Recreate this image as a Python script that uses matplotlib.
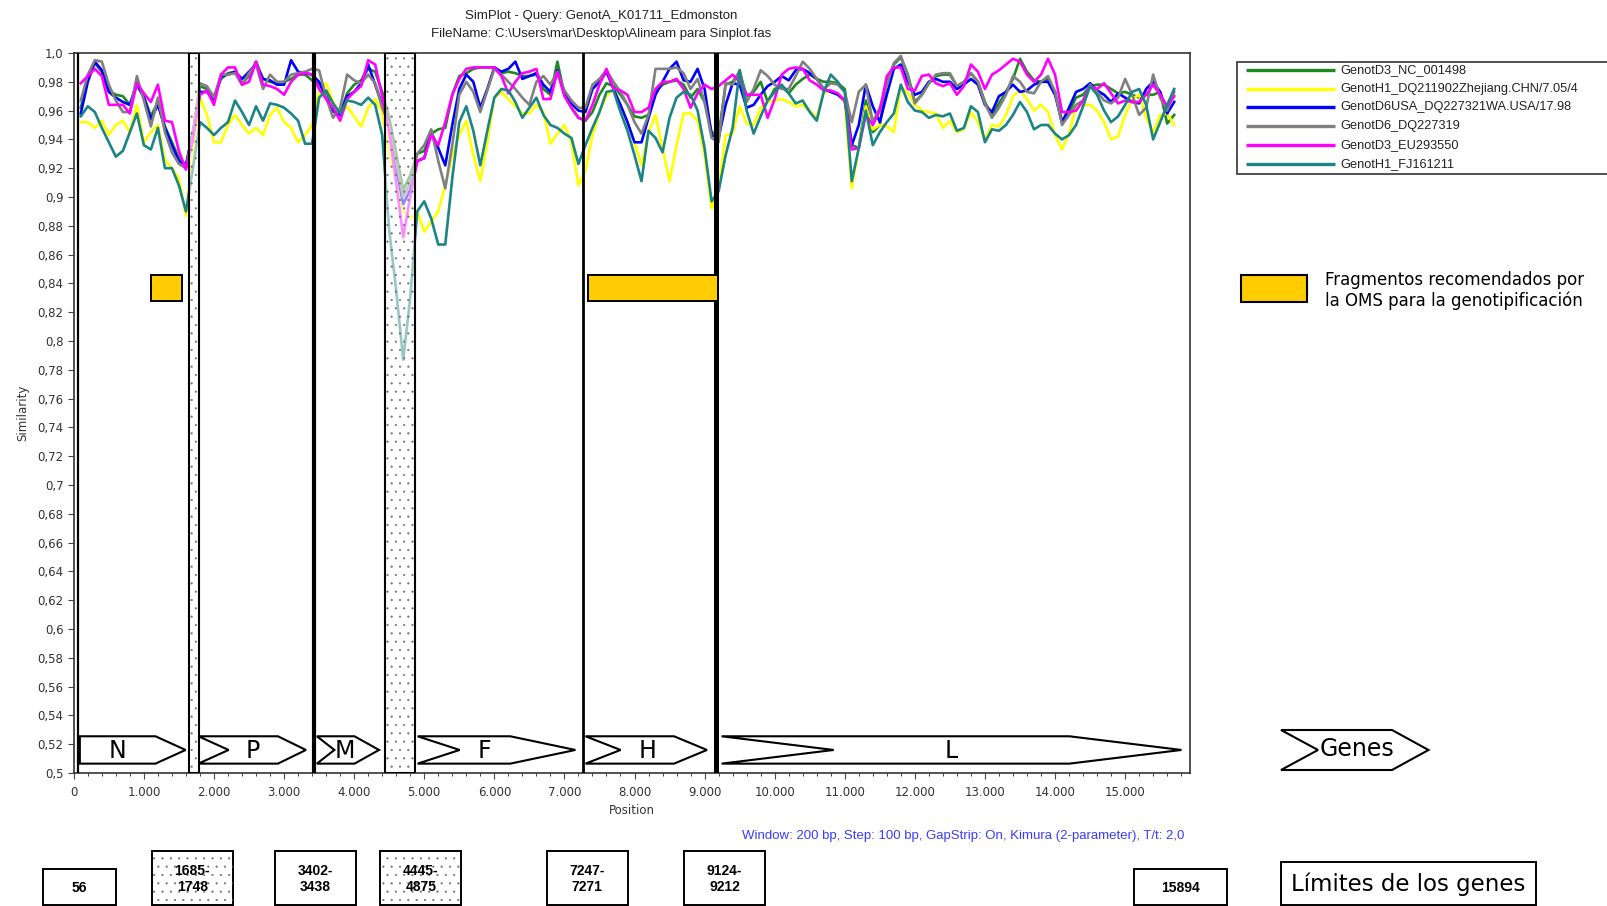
import matplotlib
import numpy as np

matplotlib.use("Agg")
import matplotlib.pyplot as plt
from matplotlib.patches import Polygon, Rectangle
from matplotlib.ticker import FuncFormatter, MultipleLocator

plt.rcParams["hatch.linewidth"] = 0.3

# SimPlot output: window 200 bp, step 100 bp
STEP = 100
positions = np.arange(100, 15800, STEP)

SERIES_NAMES = [
    "GenotD3_NC_001498",
    "GenotH1_DQ211902Zhejiang.CHN/7.05/4",
    "GenotD6USA_DQ227321WA.USA/17.98",
    "GenotD6_DQ227319",
    "GenotD3_EU293550",
    "GenotH1_FJ161211",
]
SERIES_COLORS = ["#1e8a1e", "#ffff00", "#0000ff", "#808080", "#ff00ff", "#1b8585"]

genotD3_nc001498 = [
    0.962, 0.982, 0.993, 0.987, 0.974, 0.971, 0.970, 0.964, 0.980, 0.970,
    0.956, 0.966, 0.949, 0.938, 0.927, 0.922, 0.945, 0.977, 0.975, 0.970,
    0.982, 0.986, 0.987, 0.979, 0.984, 0.994, 0.982, 0.980, 0.979, 0.980,
    0.982, 0.985, 0.985, 0.981, 0.979, 0.971, 0.959, 0.958, 0.972, 0.978,
    0.981, 0.989, 0.987, 0.973, 0.955, 0.930, 0.905, 0.915, 0.930, 0.932,
    0.944, 0.947, 0.948, 0.971, 0.984, 0.986, 0.989, 0.990, 0.990, 0.990,
    0.986, 0.987, 0.986, 0.984, 0.984, 0.985, 0.975, 0.971, 0.994, 0.971,
    0.962, 0.955, 0.953, 0.959, 0.971, 0.979, 0.977, 0.971, 0.964, 0.956,
    0.955, 0.957, 0.973, 0.978, 0.980, 0.981, 0.978, 0.969, 0.975, 0.966,
    0.945, 0.943, 0.978, 0.980, 0.987, 0.970, 0.973, 0.980, 0.966, 0.975,
    0.977, 0.972, 0.978, 0.982, 0.985, 0.982, 0.980, 0.980, 0.979, 0.975,
    0.936, 0.934, 0.967, 0.945, 0.950, 0.980, 0.992, 0.997, 0.985, 0.966,
    0.971, 0.979, 0.984, 0.985, 0.985, 0.977, 0.980, 0.986, 0.980, 0.966,
    0.956, 0.965, 0.973, 0.982, 0.996, 0.987, 0.981, 0.980, 0.982, 0.973,
    0.952, 0.959, 0.969, 0.971, 0.977, 0.978, 0.978, 0.975, 0.972, 0.973,
    0.971, 0.969, 0.971, 0.971, 0.973, 0.951, 0.957,
]
genotH1_dq211902 = [
    0.952, 0.952, 0.948, 0.953, 0.943, 0.950, 0.953, 0.945, 0.964, 0.938,
    0.945, 0.950, 0.926, 0.920, 0.913, 0.887, 0.930, 0.969, 0.957, 0.938,
    0.938, 0.950, 0.957, 0.950, 0.944, 0.948, 0.943, 0.957, 0.962, 0.952,
    0.948, 0.938, 0.943, 0.950, 0.973, 0.979, 0.966, 0.957, 0.963, 0.956,
    0.949, 0.962, 0.968, 0.959, 0.930, 0.910, 0.890, 0.885, 0.890, 0.876,
    0.883, 0.890, 0.908, 0.929, 0.943, 0.953, 0.929, 0.911, 0.938, 0.969,
    0.973, 0.968, 0.963, 0.958, 0.958, 0.964, 0.959, 0.937, 0.944, 0.950,
    0.938, 0.908, 0.918, 0.943, 0.959, 0.970, 0.975, 0.964, 0.952, 0.938,
    0.922, 0.945, 0.957, 0.934, 0.911, 0.936, 0.958, 0.958, 0.953, 0.929,
    0.892, 0.906, 0.943, 0.944, 0.963, 0.951, 0.950, 0.962, 0.966, 0.967,
    0.968, 0.966, 0.963, 0.964, 0.960, 0.955, 0.973, 0.973, 0.971, 0.966,
    0.906, 0.934, 0.963, 0.947, 0.950, 0.949, 0.945, 0.977, 0.972, 0.964,
    0.960, 0.959, 0.958, 0.948, 0.953, 0.945, 0.947, 0.959, 0.952, 0.940,
    0.950, 0.949, 0.957, 0.970, 0.974, 0.968, 0.960, 0.964, 0.959, 0.943,
    0.933, 0.944, 0.963, 0.964, 0.964, 0.960, 0.952, 0.940, 0.942, 0.957,
    0.968, 0.971, 0.955, 0.945, 0.957, 0.958, 0.950,
]
genotD6usa_dq227321 = [
    0.958, 0.980, 0.994, 0.988, 0.973, 0.969, 0.966, 0.964, 0.978, 0.969,
    0.954, 0.964, 0.948, 0.936, 0.925, 0.922, 0.945, 0.973, 0.973, 0.967,
    0.984, 0.985, 0.987, 0.982, 0.987, 0.992, 0.982, 0.981, 0.978, 0.978,
    0.995, 0.987, 0.986, 0.985, 0.980, 0.969, 0.960, 0.957, 0.970, 0.973,
    0.979, 0.992, 0.978, 0.964, 0.950, 0.920, 0.895, 0.905, 0.925, 0.927,
    0.945, 0.934, 0.922, 0.950, 0.975, 0.985, 0.980, 0.962, 0.975, 0.990,
    0.987, 0.989, 0.994, 0.982, 0.984, 0.986, 0.978, 0.973, 0.988, 0.972,
    0.965, 0.960, 0.959, 0.975, 0.980, 0.987, 0.975, 0.964, 0.952, 0.938,
    0.938, 0.955, 0.971, 0.980, 0.989, 0.994, 0.981, 0.980, 0.989, 0.975,
    0.943, 0.941, 0.964, 0.979, 0.978, 0.962, 0.964, 0.971, 0.977, 0.980,
    0.984, 0.981, 0.988, 0.989, 0.986, 0.982, 0.975, 0.973, 0.971, 0.967,
    0.936, 0.950, 0.978, 0.963, 0.952, 0.971, 0.989, 0.992, 0.980, 0.971,
    0.973, 0.980, 0.982, 0.980, 0.980, 0.975, 0.978, 0.982, 0.978, 0.964,
    0.959, 0.970, 0.973, 0.978, 0.973, 0.974, 0.978, 0.980, 0.980, 0.971,
    0.952, 0.962, 0.973, 0.975, 0.979, 0.974, 0.971, 0.966, 0.972, 0.969,
    0.966, 0.965, 0.975, 0.980, 0.973, 0.958, 0.966,
]
genotD6_dq227319 = [
    0.967, 0.985, 0.995, 0.994, 0.978, 0.967, 0.959, 0.959, 0.984, 0.967,
    0.949, 0.969, 0.945, 0.931, 0.923, 0.920, 0.945, 0.979, 0.977, 0.969,
    0.985, 0.985, 0.986, 0.978, 0.986, 0.992, 0.975, 0.985, 0.980, 0.980,
    0.985, 0.986, 0.987, 0.989, 0.988, 0.969, 0.955, 0.962, 0.985, 0.981,
    0.979, 0.985, 0.979, 0.962, 0.950, 0.925, 0.900, 0.910, 0.930, 0.936,
    0.947, 0.925, 0.906, 0.936, 0.971, 0.980, 0.973, 0.959, 0.974, 0.989,
    0.985, 0.980, 0.975, 0.969, 0.964, 0.980, 0.984, 0.978, 0.987, 0.974,
    0.967, 0.962, 0.962, 0.978, 0.982, 0.988, 0.980, 0.973, 0.964, 0.952,
    0.944, 0.957, 0.989, 0.989, 0.989, 0.990, 0.986, 0.975, 0.982, 0.966,
    0.941, 0.938, 0.979, 0.978, 0.988, 0.966, 0.975, 0.988, 0.984, 0.978,
    0.975, 0.975, 0.984, 0.994, 0.989, 0.982, 0.975, 0.979, 0.978, 0.973,
    0.952, 0.973, 0.978, 0.952, 0.962, 0.978, 0.993, 0.998, 0.984, 0.965,
    0.971, 0.979, 0.985, 0.986, 0.986, 0.977, 0.980, 0.986, 0.980, 0.965,
    0.955, 0.962, 0.971, 0.984, 0.980, 0.973, 0.972, 0.980, 0.984, 0.973,
    0.950, 0.957, 0.964, 0.967, 0.978, 0.973, 0.967, 0.965, 0.969, 0.982,
    0.971, 0.957, 0.962, 0.985, 0.969, 0.960, 0.973,
]
genotD3_eu293550 = [
    0.979, 0.984, 0.989, 0.984, 0.964, 0.964, 0.964, 0.958, 0.979, 0.972,
    0.966, 0.978, 0.953, 0.952, 0.932, 0.919, 0.940, 0.971, 0.974, 0.964,
    0.985, 0.990, 0.990, 0.978, 0.980, 0.994, 0.978, 0.977, 0.975, 0.971,
    0.980, 0.985, 0.986, 0.985, 0.975, 0.968, 0.962, 0.953, 0.968, 0.973,
    0.977, 0.995, 0.992, 0.970, 0.945, 0.910, 0.872, 0.900, 0.925, 0.927,
    0.943, 0.936, 0.952, 0.971, 0.982, 0.989, 0.990, 0.990, 0.990, 0.990,
    0.984, 0.972, 0.980, 0.986, 0.987, 0.989, 0.968, 0.968, 0.987, 0.970,
    0.962, 0.955, 0.953, 0.964, 0.978, 0.989, 0.975, 0.974, 0.971, 0.959,
    0.959, 0.962, 0.975, 0.980, 0.980, 0.982, 0.975, 0.962, 0.972, 0.978,
    0.975, 0.977, 0.981, 0.985, 0.980, 0.971, 0.971, 0.971, 0.955, 0.968,
    0.985, 0.989, 0.990, 0.989, 0.981, 0.978, 0.974, 0.974, 0.972, 0.967,
    0.933, 0.934, 0.957, 0.950, 0.960, 0.984, 0.990, 0.990, 0.975, 0.974,
    0.984, 0.985, 0.979, 0.977, 0.979, 0.971, 0.977, 0.992, 0.987, 0.975,
    0.985, 0.988, 0.992, 0.996, 0.994, 0.985, 0.980, 0.985, 0.996, 0.985,
    0.959, 0.959, 0.960, 0.967, 0.977, 0.975, 0.979, 0.972, 0.965, 0.967,
    0.966, 0.966, 0.971, 0.978, 0.971, 0.963, 0.970,
]
genotH1_fj161211 = [
    0.956, 0.963, 0.959, 0.948, 0.938, 0.928, 0.932, 0.945, 0.958, 0.936,
    0.933, 0.948, 0.920, 0.920, 0.908, 0.890, 0.920, 0.952, 0.948, 0.943,
    0.948, 0.952, 0.967, 0.959, 0.950, 0.963, 0.953, 0.965, 0.964, 0.962,
    0.958, 0.953, 0.937, 0.937, 0.969, 0.974, 0.965, 0.958, 0.967, 0.966,
    0.964, 0.969, 0.964, 0.943, 0.877, 0.835, 0.787, 0.830, 0.890, 0.897,
    0.885, 0.867, 0.867, 0.913, 0.952, 0.963, 0.946, 0.922, 0.946, 0.969,
    0.975, 0.974, 0.966, 0.955, 0.962, 0.969, 0.957, 0.950, 0.948, 0.944,
    0.941, 0.923, 0.936, 0.948, 0.959, 0.973, 0.974, 0.959, 0.946, 0.929,
    0.911, 0.946, 0.941, 0.931, 0.955, 0.969, 0.973, 0.971, 0.960, 0.934,
    0.897, 0.904, 0.929, 0.948, 0.988, 0.960, 0.944, 0.956, 0.967, 0.973,
    0.978, 0.972, 0.965, 0.967, 0.959, 0.953, 0.973, 0.985, 0.980, 0.973,
    0.911, 0.934, 0.960, 0.936, 0.945, 0.952, 0.958, 0.978, 0.966, 0.960,
    0.959, 0.955, 0.957, 0.956, 0.958, 0.946, 0.948, 0.963, 0.959, 0.938,
    0.947, 0.946, 0.950, 0.957, 0.966, 0.959, 0.947, 0.950, 0.950, 0.944,
    0.940, 0.943, 0.950, 0.963, 0.977, 0.971, 0.960, 0.952, 0.956, 0.964,
    0.973, 0.975, 0.964, 0.940, 0.952, 0.964, 0.975,
]
SERIES_VALUES = [
    genotD3_nc001498,
    genotH1_dq211902,
    genotD6usa_dq227321,
    genotD6_dq227319,
    genotD3_eu293550,
    genotH1_fj161211,
]

# genes and the boundaries between them (bp)
GENE_NAMES = ["N", "P", "M", "F", "H", "L"]
gene_start = [56, 1748, 3438, 4875, 7271, 9212]
gene_end = [1685, 3402, 4445, 7247, 9124, 15894]
boundaries = [(56, 56), (1685, 1748), (3402, 3438), (4445, 4875),
              (7247, 7271), (9124, 9212), (15894, 15894)]
boundary_stippled = [False, True, False, True, False, False, False]
# WHO recommended genotyping fragments (N-450 and H)
who_fragments = [(1100, 1550), (7330, 9190)]

FIG_W, FIG_H = 1608, 906
STIPPLE = ".."
STIPPLE_COLOR = "#6e6e6e"


def fmt_y(value, _pos):
    text = f"{value:.2f}".rstrip("0")
    if text.endswith("."):
        text += "0"
    return text.replace(".", ",")


def fmt_x(value, _pos):
    return f"{int(round(value)):,}".replace(",", ".")


def gene_arrow(x0, x1, notch, head, y_bot=0.5065, y_top=0.5255):
    y_mid = (y_bot + y_top) / 2
    pts = [(x0, y_top), (x1 - head, y_top), (x1, y_mid), (x1 - head, y_bot), (x0, y_bot)]
    if notch > 0:
        pts.append((x0 + notch, y_mid))
    return pts


fig = plt.figure(figsize=(FIG_W / 100, FIG_H / 100), dpi=100)
ax_left, ax_right, ax_top, ax_bottom = 73.8, 1189.6, 53, 773
ax = fig.add_axes([ax_left / FIG_W, 1 - ax_bottom / FIG_H,
                   (ax_right - ax_left) / FIG_W, (ax_bottom - ax_top) / FIG_H])

for values, color in zip(SERIES_VALUES, SERIES_COLORS):
    ax.plot(positions, values, color=color, linewidth=1.9, zorder=3)

ax.set_xlim(0, 15920)
ax.set_ylim(0.5, 1.0)
ax.xaxis.set_major_locator(MultipleLocator(1000))
ax.xaxis.set_minor_locator(MultipleLocator(200))
ax.yaxis.set_major_locator(MultipleLocator(0.02))
ax.xaxis.set_major_formatter(FuncFormatter(fmt_x))
ax.yaxis.set_major_formatter(FuncFormatter(fmt_y))
ax.tick_params(axis="both", which="major", direction="out", length=4, width=0.8,
               labelsize=8.5, labelcolor="#333333", color="#444444")
ax.tick_params(axis="x", which="minor", direction="out", length=2.5, width=0.7, color="#444444")
ax.tick_params(axis="x", pad=5)
for spine in ax.spines.values():
    spine.set_color("#333333")
    spine.set_linewidth(1.2)
ax.set_xlabel("Position", fontsize=8.5, color="#333333", labelpad=4)
ax.set_ylabel("Similarity", fontsize=8.5, color="#333333", labelpad=6)

# gene boundaries: stippled boxes for the non-coding stretches, bars for the rest
bar_widths = {0: 1.6, 2: 3.0, 4: 2.0, 5: 3.6}
for i, ((start, end), stippled) in enumerate(zip(boundaries, boundary_stippled)):
    if stippled:
        width = max(end - start, 140)
        x0 = (start + end) / 2 - width / 2
        ax.add_patch(Rectangle((x0, 0.5), width, 0.5, facecolor="white", alpha=0.55,
                               edgecolor="none", zorder=5))
        ax.add_patch(Rectangle((x0, 0.5), width, 0.5, facecolor="none", hatch=STIPPLE,
                               edgecolor=STIPPLE_COLOR, linewidth=0, zorder=6))
        ax.add_patch(Rectangle((x0, 0.5), width, 0.5, facecolor="none",
                               edgecolor="black", linewidth=1.5, zorder=7))
    elif i in bar_widths:
        ax.axvline((start + end) / 2, color="black", linewidth=bar_widths[i], zorder=7)

# WHO fragments
for start, end in who_fragments:
    ax.add_patch(Rectangle((start, 0.828), end - start, 0.018, facecolor="#ffcc00",
                           edgecolor="black", linewidth=1.4, zorder=8))

# gene arrows
notches = [0, 430, 250, 600, 500, 1600]
heads = [430, 400, 350, 930, 470, 1600]
for name, start, end, notch, head in zip(GENE_NAMES, gene_start, gene_end, notches, heads):
    x0, x1 = start + 30, end - 90
    ax.add_patch(Polygon(gene_arrow(x0, x1, notch, head), closed=True, facecolor="white",
                         edgecolor="black", linewidth=1.5, zorder=8, joinstyle="miter"))
    ax.text((x0 + notch + x1 - head) / 2, 0.5155, name, ha="center", va="center",
            fontsize=17, zorder=9)

# everything outside the plot, in pixel coordinates
ov = fig.add_axes([0, 0, 1, 1])
ov.set_xlim(0, FIG_W)
ov.set_ylim(FIG_H, 0)
ov.axis("off")

ov.text(601, 15.5, "SimPlot - Query: GenotA_K01711_Edmonston", ha="center", va="center",
        fontsize=9.5, family="Liberation Sans", color="#222222")
ov.text(601, 34, "FileName: C:\\Users\\mar\\Desktop\\Alineam para Sinplot.fas", ha="center",
        va="center", fontsize=9.5, family="Liberation Sans", color="#222222")
ov.text(1184, 836, "Window: 200 bp, Step: 100 bp, GapStrip: On, Kimura (2-parameter), T/t: 2,0",
        ha="right", va="center", fontsize=9.5, family="Liberation Sans", color="#3b3bff")

# series legend
ov.add_patch(Rectangle((1237, 61.5), 400, 112.5, facecolor="white", edgecolor="#333333",
                       linewidth=1.2, clip_on=False))
for row, (name, color) in enumerate(zip(SERIES_NAMES, SERIES_COLORS)):
    y = 69.7 + row * 18.86
    ov.plot([1246, 1335], [y, y], color=color, linewidth=2.4, solid_capstyle="butt")
    ov.text(1340, y, name, ha="left", va="center", fontsize=9.2,
            family="Liberation Sans", color="#222222")

# WHO legend
ov.add_patch(Rectangle((1241, 275), 66.5, 26.5, facecolor="#ffcc00", edgecolor="black",
                       linewidth=1.5))
ov.text(1325, 280, "Fragmentos recomendados por", ha="left", va="center", fontsize=12)
ov.text(1325, 301, "la OMS para la genotipificación", ha="left", va="center", fontsize=12)

# genes legend
ov.add_patch(Polygon([(1281, 730), (1392, 730), (1428.5, 750), (1392, 770), (1281, 770),
                      (1318, 750)], closed=True, facecolor="white", edgecolor="black",
                     linewidth=1.5, joinstyle="miter"))
ov.text(1357, 749, "Genes", ha="center", va="center", fontsize=17)

# boundary boxes along the bottom
box_centers = [79.5, 192.3, 315.3, 421, 587.1, 724.5, 1180.7]
for (start, end), stippled, cx in zip(boundaries, boundary_stippled, box_centers):
    if start == end:
        label = f"{start}"
        width, top = (73 if start < 1000 else 93), 868.6
    else:
        label = f"{start}-\n{end}"
        width, top = 81, 851
    height = 904.5 - top
    ov.add_patch(Rectangle((cx - width / 2, top), width, height, facecolor="white",
                           edgecolor="black", linewidth=1.4))
    if stippled:
        ov.add_patch(Rectangle((cx - width / 2, top), width, height, facecolor="none",
                               hatch=STIPPLE, edgecolor=STIPPLE_COLOR, linewidth=0))
    ov.text(cx, top + height / 2 + 1, label, ha="center", va="center", fontsize=10,
            fontweight="bold", family="Liberation Sans", linespacing=1.15, zorder=5)

ov.add_patch(Rectangle((1281, 862), 255, 42.5, facecolor="white", edgecolor="black",
                       linewidth=1.4))
ov.text(1408.5, 884, "Límites de los genes", ha="center", va="center", fontsize=16.5)

fig.savefig("out.png", dpi=100)
plt.close(fig)
